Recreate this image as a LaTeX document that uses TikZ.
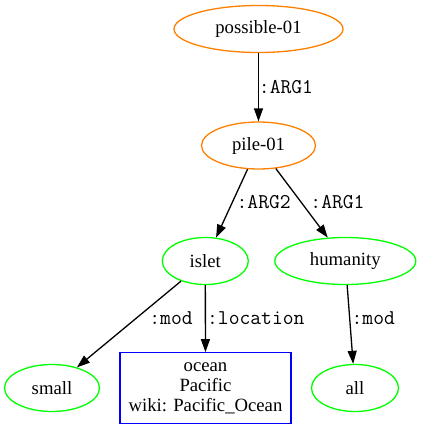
\documentclass[tikz,border=0pt]{standalone}
\usepackage{fontspec}
\setmainfont{Liberation Serif}
\usetikzlibrary{shapes,arrows.meta}

\begin{document}
\begin{tikzpicture}
[x=1pt, y=-1pt,
every node/.style={font=\fontsize{18.7}{20}\selectfont},
% The concept style is used to draw the AMR concepts
concept/.style={ellipse, draw, line width=1.3pt, inner sep=0pt, minimum height=47pt},
pred/.style={concept, draw=orange},
ent/.style={concept, draw=green},
% The named style is used for the named entity box
named/.style={rectangle, draw=blue, line width=1.3pt, inner sep=0pt, minimum width=171pt, minimum height=71pt, align=center},
% The role style is used to write the relation names
role/.style={inner sep=0pt, font=\ttfamily\fontsize{21}{23}\selectfont},
edge/.style={line width=1.3pt, -{Triangle[length=13pt,width=9pt]}}
]
\useasboundingbox (0,0) rectangle (421,429);
% Draw concepts
\node[pred, minimum width=169pt] (possible) at (258.5,29) {possible-01};
\node[pred, minimum width=114pt] (pile) at (258.5,145.5) {pile-01};
\node[ent, minimum width=86pt] (islet) at (205.3,261) {islet};
\node[ent, minimum width=141pt] (humanity) at (345.3,261) {humanity};
\node[ent, minimum width=95pt] (small) at (52,388) {small};
\node[named] (ocean) at (205.5,388.3) {ocean\\Pacific\\wiki: Pacific\_Ocean};
\node[ent, minimum width=87pt] (all) at (355,388) {all};
% Draw relations
\draw[edge] (possible) -- (pile);
\draw[edge] (pile) -- (islet);
\draw[edge] (pile) -- (humanity);
\draw[edge] (islet) -- (small);
\draw[edge] (islet) -- (ocean);
\draw[edge] (humanity) -- (all);
\node[role] (arg1a) at (286,87) {:ARG1};
\node[role] (arg2) at (263.7,202) {:ARG2};
\node[role] (arg1b) at (337.5,202) {:ARG1};
\node[role] (moda) at (171,318) {:mod};
\node[role] (location) at (255.8,318) {:location};
\node[role] (modb) at (373.3,318) {:mod};
\end{tikzpicture}
\end{document}
